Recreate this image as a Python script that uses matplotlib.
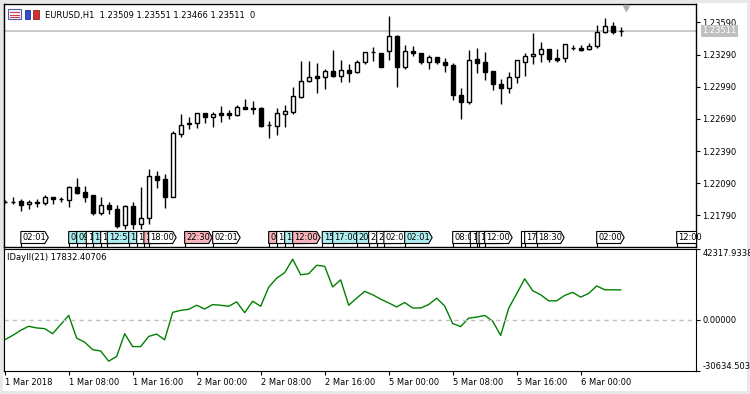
import matplotlib.pyplot as plt
from matplotlib.patches import Rectangle, Polygon
from matplotlib.transforms import blended_transform_factory

plt.rcParams['font.family'] = ['DejaVu Sans']

# EURUSD H1, bar 0 = 1 Mar 2018 00:00 (weekend skipped)
opens = [1.21918, 1.21918, 1.21924, 1.21894, 1.21918, 1.21903, 1.21959, 1.21940, 1.21931, 1.22052,
         1.22008, 1.21978, 1.21815, 1.21884, 1.21847, 1.21701, 1.21875, 1.21713, 1.21763, 1.22155,
         1.22127, 1.21965, 1.22552, 1.22647, 1.22649, 1.22742, 1.22711, 1.22742, 1.22745, 1.22729,
         1.22798, 1.22792, 1.22792, 1.22636, 1.22627, 1.22739, 1.22757, 1.22897, 1.23041, 1.23087,
         1.23084, 1.23137, 1.23093, 1.23146, 1.23125, 1.23218, 1.23311, 1.23302, 1.23320, 1.23463,
         1.23177, 1.23320, 1.23302, 1.23218, 1.23264, 1.23218, 1.23190, 1.22910, 1.22845, 1.23246,
         1.23224, 1.23137, 1.23016, 1.22975, 1.23078, 1.23224, 1.23277, 1.23293, 1.23339, 1.23255,
         1.23255, 1.23348, 1.23348, 1.23339, 1.23367, 1.23498, 1.23556, 1.23509]
highs = [1.21934, 1.21959, 1.21940, 1.21934, 1.21940, 1.21980, 1.21962, 1.21965, 1.22062, 1.22139,
         1.22064, 1.21980, 1.21959, 1.21912, 1.21884, 1.21884, 1.21918, 1.22055, 1.22223, 1.22207,
         1.22174, 1.22580, 1.22733, 1.22708, 1.22745, 1.22745, 1.22757, 1.22810, 1.22773, 1.22820,
         1.22876, 1.22857, 1.22798, 1.22671, 1.22795, 1.22820, 1.22988, 1.23230, 1.23230, 1.23207,
         1.23158, 1.23333, 1.23239, 1.23202, 1.23239, 1.23314, 1.23358, 1.23305, 1.23650, 1.23473,
         1.23379, 1.23370, 1.23305, 1.23286, 1.23270, 1.23255, 1.23214, 1.22975, 1.23333, 1.23347,
         1.23314, 1.23137, 1.23059, 1.23127, 1.23242, 1.23302, 1.23488, 1.23404, 1.23342, 1.23339,
         1.23389, 1.23376, 1.23382, 1.23395, 1.23566, 1.23631, 1.23591, 1.23551]
lows = [1.21906, 1.21894, 1.21834, 1.21847, 1.21866, 1.21884, 1.21896, 1.21912, 1.21868, 1.21990,
        1.21918, 1.21794, 1.21794, 1.21800, 1.21670, 1.21660, 1.21660, 1.21660, 1.21713, 1.22048,
        1.21862, 1.21959, 1.22524, 1.22596, 1.22608, 1.22655, 1.22617, 1.22664, 1.22689, 1.22717,
        1.22778, 1.22736, 1.22617, 1.22515, 1.22540, 1.22617, 1.22736, 1.22888, 1.23038, 1.22936,
        1.22969, 1.23084, 1.23037, 1.23037, 1.23122, 1.23199, 1.23230, 1.23171, 1.23242, 1.22990,
        1.23155, 1.23279, 1.23202, 1.23155, 1.23202, 1.23125, 1.22866, 1.22686, 1.22826, 1.23116,
        1.23053, 1.22960, 1.22829, 1.22929, 1.23022, 1.23093, 1.23199, 1.23224, 1.23224, 1.23224,
        1.23224, 1.23333, 1.23320, 1.23336, 1.23348, 1.23491, 1.23479, 1.23466]
closes = [1.21918, 1.21919, 1.21887, 1.21912, 1.21906, 1.21959, 1.21940, 1.21943, 1.22052, 1.22002,
          1.21965, 1.21813, 1.21884, 1.21847, 1.21688, 1.21878, 1.21707, 1.21763, 1.22155, 1.22117,
          1.21965, 1.22556, 1.22630, 1.22650, 1.22742, 1.22711, 1.22736, 1.22729, 1.22729, 1.22798,
          1.22780, 1.22780, 1.22624, 1.22633, 1.22742, 1.22764, 1.22904, 1.23044, 1.23078, 1.23076,
          1.23137, 1.23093, 1.23143, 1.23121, 1.23218, 1.23311, 1.23313, 1.23177, 1.23463, 1.23177,
          1.23320, 1.23302, 1.23218, 1.23264, 1.23218, 1.23190, 1.22910, 1.22845, 1.23239, 1.23216,
          1.23130, 1.23013, 1.22975, 1.23078, 1.23239, 1.23277, 1.23295, 1.23339, 1.23246, 1.23239,
          1.23386, 1.23350, 1.23335, 1.23367, 1.23500, 1.23556, 1.23503, 1.23511]

# IDayII(21) indicator
iday = [-11987, -9354, -6314, -3882, -4896, -5301, -8340, -2868, 2603, -10976,
        -13408, -17864, -18675, -24752, -21916, -8340, -16040, -16040, -9961, -8544,
        -11987, 4428, 5643, 6251, 8682, 6452, 9084, 8682, 8073, 10707,
        4221, 11115, 8073, 19419, 24891, 28135, 36239, 26920, 27528, 32592,
        31984, 19625, 23881, 8682, 12938, 16988, 14962, 12329, 10099, 7668,
        10301, 7060, 7060, 9084, 12938, 8276, -2260, -4084, 981, 1589,
        2603, -843, -9354, 6857, 15570, 24486, 17394, 14962, 11315, 11315,
        14556, 16379, 13545, 15773, 20233, 17950, 17900, 17832.40706]

title = 'EURUSD,H1  1.23509 1.23551 1.23466 1.23511  0'
ind_title = 'IDayII(21) 17832.40706'
bid = 1.23511
price_min, price_max = 1.214954, 1.237616
price_ticks = [1.23590, 1.23290, 1.22990, 1.22690, 1.22390, 1.22090, 1.21790]
ind_min, ind_max = -30634.5038, 42317.9338
ind_tick_labels = ['42317.9338', '0.00000', '-30634.5038']
time_bars = [0, 8, 16, 24, 32, 40, 48, 56, 64, 72]
time_labels = ['1 Mar 2018', '1 Mar 08:00', '1 Mar 16:00', '2 Mar 00:00', '2 Mar 08:00',
               '2 Mar 16:00', '5 Mar 00:00', '5 Mar 08:00', '5 Mar 16:00', '6 Mar 00:00']

# time tags along the bottom of the price window (position in bars, text, kind)
tag_pos = [2.02, 8, 9, 10.2, 11, 12, 12.83, 15.5, 16.5, 17.4, 18, 22.5, 26,
           33, 34, 35, 36, 39.7, 41, 44, 45.5, 46.5, 47.4, 50,
           56, 58.2, 59, 59.3, 60, 64.6, 65, 66.5, 74, 84]
tag_text = ['02:01', '08:00', '09:00', '10:10', '11:00', '12:00', '12:50', '15:30', '16:30', '17:25',
            '18:00', '22:30', '02:01', '09:00', '10:00', '11:00', '12:00', '15:45', '17:00', '20:00',
            '21:30', '22:30', '02:00', '02:01', '08:00', '10:15', '11:00', '11:20', '12:00', '16:35',
            '17:00', '18:30', '02:00', '12:00']
tag_kind = ['w', 'c', 'c', 'w', 'c', 'w', 'c', 'c', 'w', 'p',
            'w', 'p', 'w', 'p', 'w', 'c', 'p', 'c', 'c', 'c',
            'w', 'w', 'w', 'c', 'w', 'w', 'w', 'w', 'w', 'w',
            'w', 'w', 'w', 'w']
tag_colors = {'w': '#ffffff', 'c': '#aeeef0', 'p': '#f8b4bc'}

W, H = 750, 394
BAR_PX = 8.0
X0 = 4.67  # pixel of bar 0
FS = 6


def fr(px, py):
    return px / W, 1 - py / H


fig = plt.figure(figsize=(W / 100, H / 100), dpi=100)
fig.patch.set_facecolor('white')

# window frame
bg = fig.add_axes([0, 0, 1, 1], zorder=-5)
bg.set_xlim(0, W)
bg.set_ylim(H, 0)
bg.axis('off')
bg.add_patch(Rectangle((0, 0), W, 3, color='#e8e8e8', lw=0))
bg.add_patch(Rectangle((0, 0), 3, H, color='#e8e8e8', lw=0))
bg.add_patch(Rectangle((747, 0), 3, H, color='#e8e8e8', lw=0))
bg.add_patch(Rectangle((0, 391), W, 3, color='#e8e8e8', lw=0))
bg.plot([3.5, 3.5], [3.5, 371], color='#404040', lw=1)

# header icons + symbol line (on top of the price window)
ov = fig.add_axes([0, 0, 1, 1], zorder=20)
ov.set_xlim(0, W)
ov.set_ylim(H, 0)
ov.axis('off')
ov.patch.set_alpha(0)
ov.add_patch(Rectangle((8, 9), 13, 10, facecolor='#f4f4ff', edgecolor='#5060b0', lw=0.8))
for k in range(3):
    ov.plot([10, 19], [12 + 2.5 * k, 12 + 2.5 * k], color='#d04040', lw=0.8)
ov.add_patch(Rectangle((25, 10), 5, 9, facecolor='#3050d0', edgecolor='#203090', lw=0.6))
ov.add_patch(Rectangle((33, 10), 6, 9, facecolor='#d03030', edgecolor='#902020', lw=0.6))
ov.text(45, 15.5, title, fontsize=FS, va='center', ha='left')

# price window
ax = fig.add_axes([*fr(4, 247), 692 / W, 243 / H])
ax.set_xlim((4 - X0) / BAR_PX, (696 - X0) / BAR_PX)
ax.set_ylim(price_min, price_max)
bw = 0.5
for i in range(len(opens)):
    o, h, l, c = opens[i], highs[i], lows[i], closes[i]
    ax.plot([i, i], [l, h], color='black', lw=1, zorder=3, solid_capstyle='butt')
    lo_, hi_ = min(o, c), max(o, c)
    fc = 'white' if c >= o else 'black'
    ax.add_patch(Rectangle((i - bw / 2, lo_), bw, hi_ - lo_, facecolor=fc,
                           edgecolor='black', lw=1, zorder=4))

ax.axhline(bid, color='#c0c0c0', lw=1.2, zorder=1)
ax.set_xticks([])
ax.yaxis.tick_right()
ax.set_yticks(price_ticks)
ax.set_yticklabels([f'{p:.5f}' for p in price_ticks])
ax.tick_params(axis='y', length=3, width=0.8, labelsize=FS, pad=1.5, direction='out')
for s in ax.spines.values():
    s.set_linewidth(1)
ytr = blended_transform_factory(ax.transAxes, ax.transData)
ax.text(1.0 + 6 / 692, bid, f'{bid:.5f}', transform=ytr, fontsize=FS, color='white',
        va='center', ha='left', clip_on=False,
        bbox=dict(boxstyle='square,pad=0.15', facecolor='#c0c0c0', edgecolor='none'))
xtr = blended_transform_factory(ax.transData, ax.transAxes)
ax.plot([(626 - X0) / BAR_PX], [1 - 4 / 243], marker='v', color='#b0b0b0', ms=5,
        transform=xtr, clip_on=False, zorder=6)

# time tags: each later tag covers the tail of the one before it
box_b, box_t = 3.5 / 243, 15.5 / 243
box_w, arrow_w = 24 / BAR_PX, 3.5 / BAR_PX
pad = 1.5 / BAR_PX
char_w = {':': 2.8}
for k, (xp, tx, kd) in enumerate(zip(tag_pos, tag_text, tag_kind)):
    zb = 10 + 2 * k
    poly = [(xp, box_b), (xp + box_w, box_b), (xp + box_w + arrow_w, (box_b + box_t) / 2),
            (xp + box_w, box_t), (xp, box_t)]
    box = Polygon(poly, closed=True, facecolor=tag_colors[kd], edgecolor='black',
                  lw=0.8, transform=xtr, zorder=zb)
    ax.add_patch(box)
    ax.plot([xp, xp], [0, box_b], color='black', lw=0.8, transform=xtr, zorder=zb)
    # keep only the characters that show before the next tag starts
    room = (tag_pos[k + 1] - xp - pad) * BAR_PX if k + 1 < len(tag_pos) else 99
    shown, used = '', 0.0
    for ch in tx:
        if used >= room - 1:
            break
        shown += ch
        used += char_w.get(ch, 5.3)
    if shown:
        t = ax.text(xp + pad, (box_b + box_t) / 2, shown, fontsize=FS, va='center',
                    ha='left', transform=xtr, zorder=zb + 1)
        t.set_clip_path(box)

# indicator window
ax2 = fig.add_axes([*fr(4, 371), 692 / W, 122 / H])
ax2.set_xlim((4 - X0) / BAR_PX, (696 - X0) / BAR_PX)
ax2.set_ylim(ind_min, ind_max)
ax2.plot(range(len(iday)), iday, color='#008000', lw=1)
ax2.axhline(0, color='#c0c0c0', lw=1, ls=(0, (3, 3)))
ax2.yaxis.tick_right()
ax2.set_yticks([ind_max, 0, ind_min])
ax2.set_yticklabels(ind_tick_labels)
ax2.tick_params(axis='y', length=3, width=0.8, labelsize=FS, pad=1.5)
yl = ax2.get_yticklabels()
yl[0].set_va('top')
yl[2].set_va('bottom')
ax2.set_xticks(time_bars)
ax2.set_xticklabels(time_labels, ha='left')
ax2.tick_params(axis='x', length=3, width=0.8, labelsize=FS, pad=2)
ax2.text(3 / 692, 1 - 9 / 122, ind_title, transform=ax2.transAxes, fontsize=FS,
         va='center', ha='left')

fig.savefig('out.png', dpi=100)
